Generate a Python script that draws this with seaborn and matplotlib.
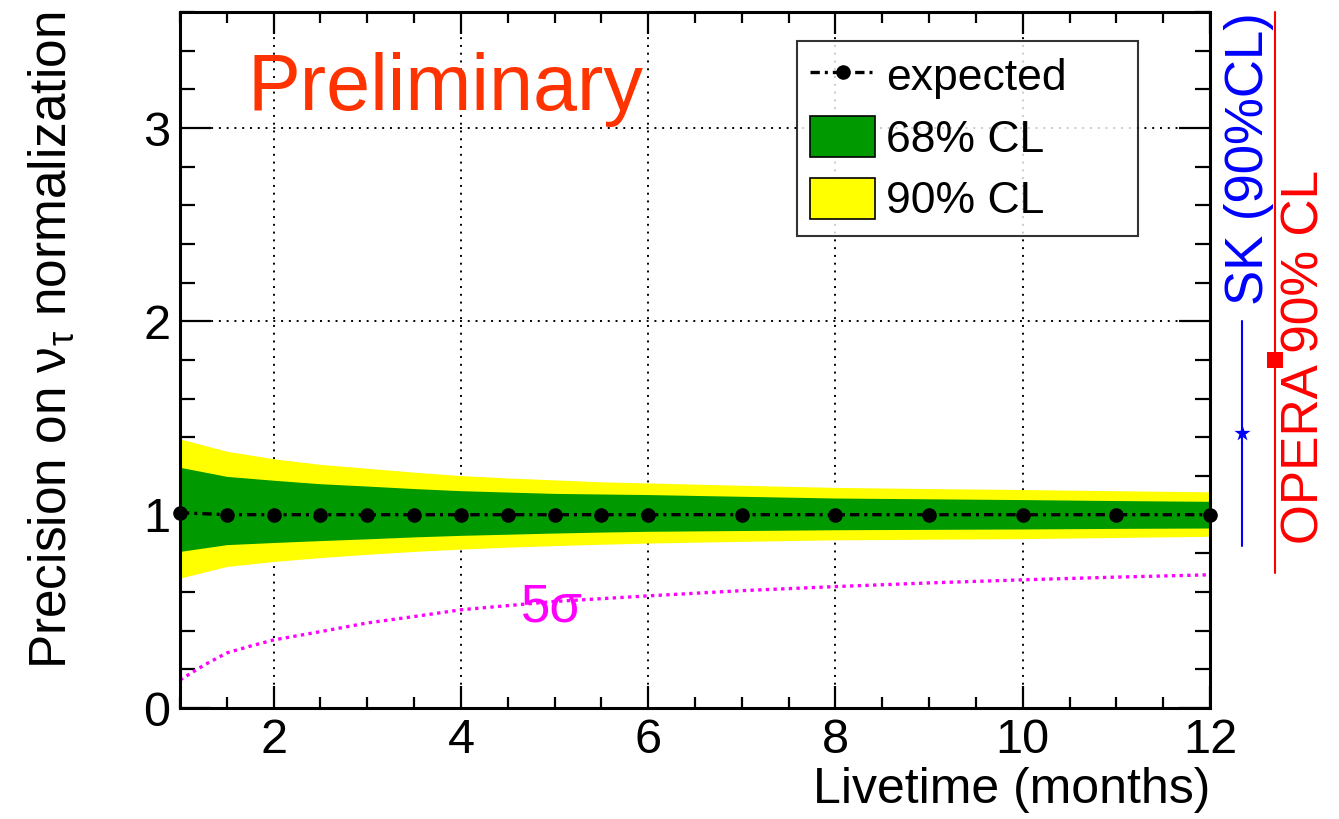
import numpy as np
import pandas as pd
import matplotlib
matplotlib.use("Agg")
import matplotlib.pyplot as plt
from matplotlib.ticker import MultipleLocator
from matplotlib.patches import Patch
from matplotlib.lines import Line2D
import seaborn as sns

# ---------------- data ----------------
livetime = [1, 1.5, 2, 2.5, 3, 3.5, 4, 4.5, 5, 5.5, 6, 7, 8, 9, 10, 11, 12]
expected = [1.01, 1.0, 1.0, 1.0, 1.0, 1.0, 1.0, 1.0, 1.0, 1.0, 1.0, 1.0, 1.0, 1.0, 1.0, 1.0, 1.0]
cl90_high = [1.392, 1.328, 1.289, 1.26, 1.24, 1.22, 1.202, 1.19, 1.18, 1.17, 1.164, 1.152, 1.141, 1.135, 1.13, 1.124, 1.118]
cl68_high = [1.245, 1.198, 1.178, 1.16, 1.148, 1.135, 1.124, 1.117, 1.11, 1.107, 1.104, 1.095, 1.086, 1.082, 1.078, 1.073, 1.069]
cl68_low = [0.81, 0.845, 0.856, 0.866, 0.875, 0.885, 0.893, 0.899, 0.905, 0.91, 0.914, 0.918, 0.922, 0.924, 0.926, 0.929, 0.931]
cl90_low = [0.672, 0.732, 0.758, 0.778, 0.795, 0.81, 0.822, 0.832, 0.84, 0.847, 0.853, 0.862, 0.87, 0.873, 0.876, 0.882, 0.888]

sigma5_x = [1, 1.25, 1.5, 1.75, 2, 2.5, 3, 3.5, 4, 5, 6, 7, 8, 9, 10, 11, 12]
sigma5_y = [0.145, 0.22, 0.285, 0.32, 0.352, 0.395, 0.44, 0.473, 0.508, 0.551, 0.58, 0.607, 0.628, 0.647, 0.663, 0.677, 0.689]

experiments = ["SK (90%CL)", "OPERA 90% CL"]
exp_central = [1.42, 1.8]
exp_low = [0.84, 0.7]
exp_high = [2.0, 3.6]

x_ticks = [2, 4, 6, 8, 10, 12]
y_ticks = [0, 1, 2, 3]

# ---------------- style ----------------
sns.set_style("ticks")
plt.rcParams["font.family"] = ["Liberation Sans", "DejaVu Sans"]
plt.rcParams["mathtext.fontset"] = "custom"
plt.rcParams["mathtext.rm"] = "Liberation Sans"
plt.rcParams["mathtext.it"] = "Liberation Sans:italic"
plt.rcParams["mathtext.default"] = "regular"
for key in ["text.color", "axes.labelcolor", "xtick.color", "ytick.color", "axes.edgecolor"]:
    plt.rcParams[key] = "black"

W, H = 1339, 819
fig = plt.figure(figsize=(W / 100, H / 100), dpi=100)
ax = fig.add_axes([180 / W, 111 / H, 1030 / W, 696 / H])

df = pd.DataFrame({"livetime": livetime, "expected": expected,
                   "lo90": cl90_low, "hi90": cl90_high,
                   "lo68": cl68_low, "hi68": cl68_high})
df5 = pd.DataFrame({"livetime": sigma5_x, "sig": sigma5_y})

ax.fill_between(df["livetime"], df["lo90"], df["hi90"], color="#ffff00", lw=0, zorder=2)
ax.fill_between(df["livetime"], df["lo68"], df["hi68"], color="#009900", lw=0, zorder=3)

sns.lineplot(data=df, x="livetime", y="expected", ax=ax, color="black", lw=2.4,
             marker="o", markersize=10.5, markeredgewidth=0,
             dashes=False, zorder=5, clip_on=False)
ax.lines[-1].set_dashes((2.8, 1.5, 0.9, 1.5))

sns.lineplot(data=df5, x="livetime", y="sig", ax=ax, color="#ff00ff", lw=2.4, zorder=4)
ax.lines[-1].set_dashes((1.0, 1.3))

ax.set_xlim(1, 12)
ax.set_ylim(0, 3.6)
ax.xaxis.set_minor_locator(MultipleLocator(0.5))
ax.yaxis.set_minor_locator(MultipleLocator(0.2))
ax.set_xticks(x_ticks)
ax.set_yticks(y_ticks)

ax.grid(True, which="major", color="black", lw=1.4, linestyle=(0, (1, 3)), zorder=1)
ax.set_axisbelow(True)

for s in ax.spines.values():
    s.set_linewidth(2.2)
    s.set_visible(True)
    s.set_zorder(6)

ax.tick_params(axis="both", which="both", direction="in", top=True, right=True, width=1.6,
               colors="black")
ax.tick_params(axis="x", which="major", length=16, labelsize=35, pad=7)
ax.tick_params(axis="x", which="minor", length=8)
ax.tick_params(axis="y", which="major", length=22, labelsize=35, pad=7)
ax.tick_params(axis="y", which="minor", length=11)

ax.set_xlabel("Livetime (months)", fontsize=36, loc="right")
ax.xaxis.set_label_coords(1.0, -0.085)
ax.set_ylabel("Precision on ν$_{\\tau}$ normalization", fontsize=37, loc="top")
ax.yaxis.set_label_coords(-0.1, 1.0)

ax.text(0.066, 0.859, "Preliminary", transform=ax.transAxes, fontsize=57,
        color="#ff3300", ha="left", va="baseline", zorder=7)
ax.text(4.64, 0.446, "5σ", fontsize=38, color="#ff00ff", ha="left", va="baseline", zorder=7)

handles = [Line2D([], [], color="black", lw=2.4, dashes=(2.8, 1.5, 0.9, 1.5),
                  marker="o", markersize=10.5, markeredgewidth=0),
           Patch(facecolor="#009900", edgecolor="black", lw=1.2),
           Patch(facecolor="#ffff00", edgecolor="black", lw=1.2)]
leg = ax.legend(handles, ["expected", "68% CL", "90% CL"], loc="upper left",
                bbox_to_anchor=((797 - 180) / 1030, (708 - 41) / 696, 341 / 1030, 0.0),
                mode="expand", fontsize=32, frameon=True, fancybox=False,
                handlelength=1.45, handleheight=1.05, handletextpad=0.25,
                labelspacing=0.38, borderpad=0.3, borderaxespad=0, numpoints=1)
leg.get_frame().set_edgecolor("black")
leg.get_frame().set_linewidth(1.5)
leg.set_zorder(8)

# ----- external measurements to the right of the frame -----
ax2 = fig.add_axes([1210 / W, 111 / H, 129 / W, 696 / H])
ax2.set_xlim(-0.952, 2.92)
ax2.set_ylim(0, 3.6)
ax2.axis("off")
exp_colors = ["#0000ff", "#ff0000"]
exp_markers = ["*", "s"]
exp_sizes = [150, 130]
for i, name in enumerate(experiments):
    ax2.plot([i, i], [exp_low[i], exp_high[i]], color=exp_colors[i], lw=1.5, clip_on=False)
    sns.scatterplot(x=[i], y=[exp_central[i]], ax=ax2, color=exp_colors[i],
                    marker=exp_markers[i], s=exp_sizes[i], linewidth=0, clip_on=False, zorder=5)
ax2.text(0.22, 2.84, experiments[0], rotation=90, ha="center", va="center",
         fontsize=38, color=exp_colors[0])
ax2.text(1.9, 1.816, experiments[1], rotation=90, ha="center", va="center",
         fontsize=37, color=exp_colors[1])

fig.savefig("out.png", dpi=100)
